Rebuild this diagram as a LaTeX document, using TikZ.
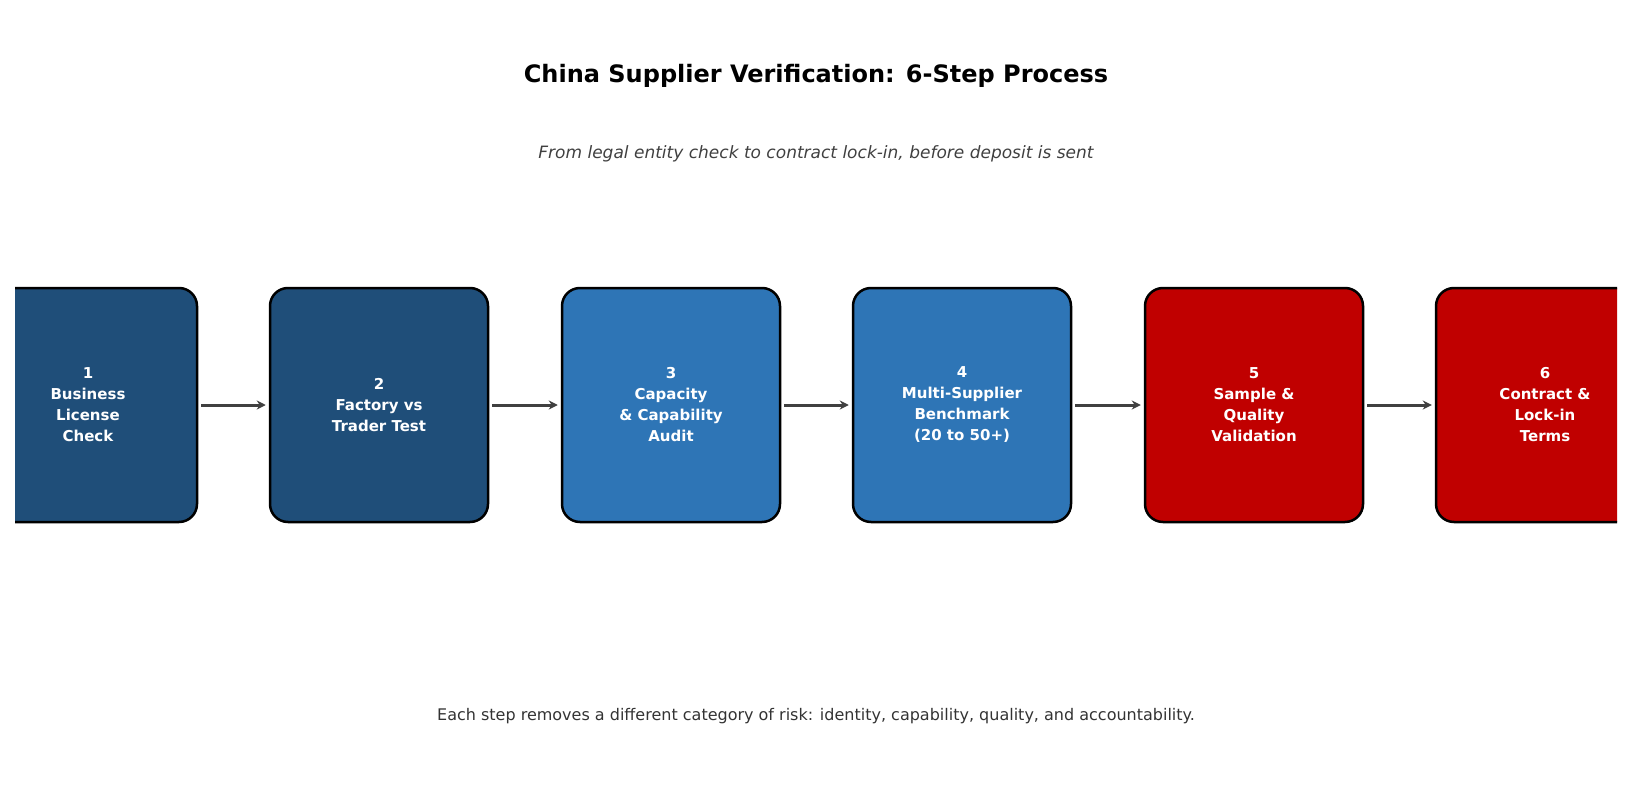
\documentclass[tikz,border=0pt]{standalone}
\usepackage{fontspec}
\setmainfont{DejaVu Sans}
\usetikzlibrary{arrows.meta}
\definecolor{dblue}{HTML}{1F4E79}
\definecolor{mblue}{HTML}{2E75B6}
\definecolor{dred}{HTML}{C00000}
\definecolor{agray}{HTML}{404040}
\begin{document}
\begin{tikzpicture}[x=1pt,y=-1pt,
  box/.style={draw=black,line width=2.5pt,rounded corners=18pt,minimum width=218pt,minimum height=234pt},
  lbl/.style={text=white,font=\fontsize{15}{21}\selectfont\bfseries,align=center},
  arr/.style={draw=agray,line width=3pt,-{Stealth[length=9pt,width=9pt]}}]
\useasboundingbox (0,0) rectangle (1632,810);
\node[font=\fontsize{24}{28}\selectfont\bfseries] (title) at (816,76) {China Supplier Verification: 6-Step Process};
\node[font=\fontsize{17}{20}\selectfont\itshape,text=agray] (sub) at (816,154) {From legal entity check to contract lock-in, before deposit is sent};
\node[font=\fontsize{16}{20}\selectfont,text=black!80] (foot) at (816,716) {Each step removes a different category of risk: identity, capability, quality, and accountability.};
\begin{scope}
\clip (15,0) rectangle (1617,810);
\node[box,fill=dblue] (b1) at (88,405) {};
\node[box,fill=dblue] (b2) at (379,405) {};
\node[box,fill=mblue] (b3) at (671,405) {};
\node[box,fill=mblue] (b4) at (962,405) {};
\node[box,fill=dred] (b5) at (1254,405) {};
\node[box,fill=dred] (b6) at (1545,405) {};
\end{scope}
\node[lbl] (t1) at (88,405) {1\\Business\\License\\Check};
\node[lbl] (t2) at (379,405) {2\\Factory vs\\Trader Test};
\node[lbl] (t3) at (671,405) {3\\Capacity\\\& Capability\\Audit};
\node[lbl] (t4) at (962,405) {4\\Multi-Supplier\\Benchmark\\(20 to 50+)};
\node[lbl] (t5) at (1254,405) {5\\Sample \&\\Quality\\Validation};
\node[lbl] (t6) at (1545,405) {6\\Contract \&\\Lock-in\\Terms};
\foreach \a/\b in {b1/b2,b2/b3,b3/b4,b4/b5,b5/b6}
  \draw[arr] ([xshift=3pt]\a.east) -- ([xshift=-3pt]\b.west);
\end{tikzpicture}
\end{document}
